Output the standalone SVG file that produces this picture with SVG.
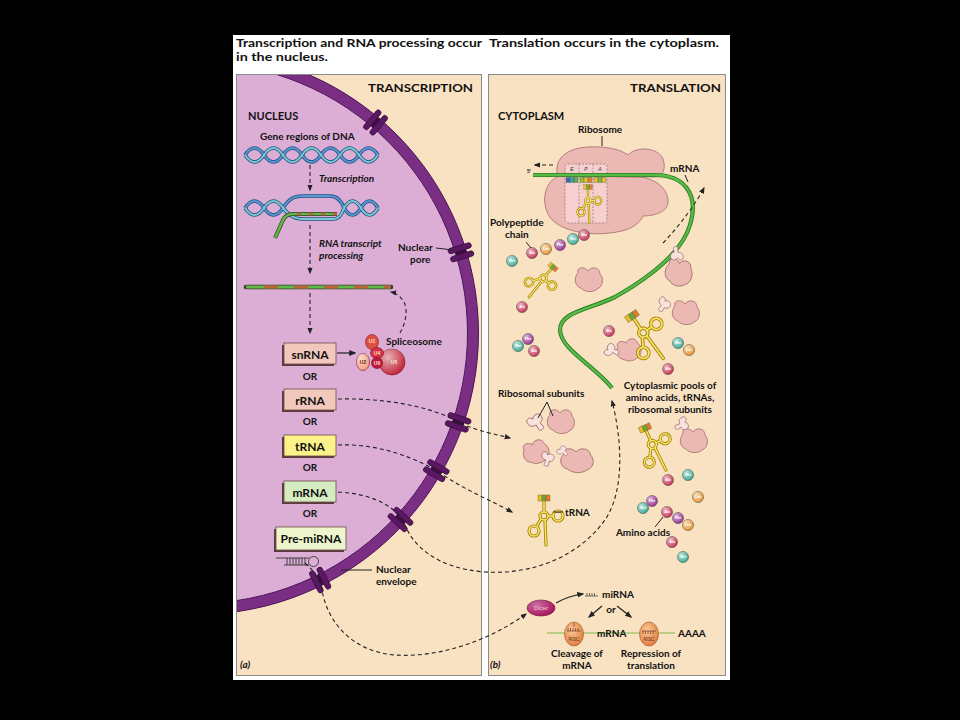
<svg xmlns="http://www.w3.org/2000/svg" width="960" height="720" viewBox="0 0 960 720">
<defs>
<style>
.hd{font-family:Lato,"Open Sans","Liberation Sans",sans-serif;font-weight:700;fill:#111}
.h1{font-size:11.5px}
.cap{font-size:11.5px}
.lb{font-size:10px}
.it{font-style:italic;font-size:10px}
.bx{font-size:12px;text-anchor:middle}
.mid{text-anchor:middle}
.tiny{font-family:"Liberation Sans",sans-serif;font-size:3.6px;font-weight:700;fill:#fff;text-anchor:middle}
.dash{fill:none;stroke:#222;stroke-width:1.1;stroke-dasharray:4 3}
.solid{fill:none;stroke:#222;stroke-width:1.2}
.lead{fill:none;stroke:#222;stroke-width:1}
.rib{fill:#ecb8b4;stroke:#a06c6c;stroke-width:0.8}
.ribs{fill:#f8e2de;stroke:#a06c6c;stroke-width:0.8}
.bxs{fill:#5b3b3b}
.bxr{stroke:#6b4b4b;stroke-width:0.8}
.tro{fill:none;stroke:#a68400;stroke-width:3.2;stroke-linecap:round}
.tri{fill:none;stroke:#f7e46a;stroke-width:1.5;stroke-linecap:round}
.bd{stroke:#333;stroke-width:0.5}
</style>
<marker id="ah" viewBox="0 0 10 10" refX="8" refY="5" markerWidth="6" markerHeight="6" orient="auto"><path d="M0,1 L10,5 L0,9 z" fill="#222"/></marker>
<radialGradient id="shine" cx="0.35" cy="0.32" r="0.7"><stop offset="0" stop-color="#fff" stop-opacity="0.65"/><stop offset="1" stop-color="#fff" stop-opacity="0"/></radialGradient>
<radialGradient id="risc" cx="0.4" cy="0.35" r="0.7"><stop offset="0" stop-color="#fbc89a"/><stop offset="1" stop-color="#e07a3a"/></radialGradient>
<clipPath id="lp"><rect x="237" y="75" width="244" height="600"/></clipPath>
<g id="pore">
<rect x="-12" y="-7" width="24" height="5.5" rx="2.7" fill="#5a1862" stroke="#360a3c" stroke-width="0.7"/>
<rect x="-12" y="1.5" width="24" height="5.5" rx="2.7" fill="#5a1862" stroke="#360a3c" stroke-width="0.7"/>
<rect x="-5.5" y="-1.5" width="11" height="3" fill="#3e0c44"/>
</g>
<g id="trna">
<g class="tro"><path d="M0,3 V14 M4,18 H9 M-3,21 L-7,28 M1,22 L2,47"/><circle cx="0" cy="18" r="4"/><circle cx="14" cy="18" r="5"/><circle cx="-10" cy="33" r="5"/></g>
<g class="tri"><path d="M0,3 V14 M4,18 H9 M-3,21 L-7,28 M1,22 L2,47"/><circle cx="0" cy="18" r="4"/><circle cx="14" cy="18" r="5"/><circle cx="-10" cy="33" r="5"/></g>
<rect x="-6" y="-3" width="4" height="6" fill="#e0c030" stroke="#7a6010" stroke-width="0.4"/>
<rect x="-2" y="-3" width="4" height="6" fill="#6aa845" stroke="#7a6010" stroke-width="0.4"/>
<rect x="2" y="-3" width="4" height="6" fill="#e07a30" stroke="#7a6010" stroke-width="0.4"/>
</g>
<path id="lg" d="M-10,-6 C-12,-12 -3,-13 0,-8 C3,-13 12,-12 12,-5 C16,-1 15,8 9,10 C5,14 -4,13 -7,9 C-14,7 -14,-2 -10,-6 Z"/>
<path id="sm" d="M-8,-3 C-9,-7 -3,-8 -2,-4 C0,-8 7,-7 6,-2 C6,1 3,2 2,2 L3,6 C3,9 -3,9 -2,6 L-2,2 C-6,2 -8,0 -8,-3 Z"/>
<g id="ala"><circle r="5.5" fill="#c8385a" class="bd"/><circle r="5.5" fill="url(#shine)"/><text y="1.3" class="tiny">Ala</text></g>
<g id="met"><circle r="5.5" fill="#3fae98" class="bd"/><circle r="5.5" fill="url(#shine)"/><text y="1.3" class="tiny">Met</text></g>
<g id="phe"><circle r="5.5" fill="#9a3496" class="bd"/><circle r="5.5" fill="url(#shine)"/><text y="1.3" class="tiny">Phe</text></g>
<g id="leu"><circle r="5.5" fill="#e89a38" class="bd"/><circle r="5.5" fill="url(#shine)"/><text y="1.3" class="tiny">Leu</text></g>
</defs>

<rect width="960" height="720" fill="#000"/>
<rect x="233" y="35" width="497" height="645" fill="#fff"/>

<g id="headings" class="hd h1">
<text x="236" y="47" textLength="246" lengthAdjust="spacingAndGlyphs">Transcription and RNA processing occur</text>
<text x="236" y="61" textLength="92" lengthAdjust="spacingAndGlyphs">in the nucleus.</text>
<text x="489" y="47" textLength="230" lengthAdjust="spacingAndGlyphs">Translation occurs in the cytoplasm.</text>
</g>

<g id="panel-a">
<rect x="236.5" y="74.5" width="245" height="601" fill="#f9e2c2" stroke="#8a8a8a" stroke-width="1"/>
<g clip-path="url(#lp)">
<circle cx="197" cy="333" r="271" fill="#dcaed6"/>
<circle cx="197" cy="333" r="276" fill="none" stroke="#7b2f84" stroke-width="11"/>
<circle cx="197" cy="333" r="281.5" fill="none" stroke="#4d1556" stroke-width="1"/>
<circle cx="197" cy="333" r="270.5" fill="none" stroke="#4d1556" stroke-width="1"/>
</g>
<text x="368" y="92" class="hd cap" textLength="105" lengthAdjust="spacingAndGlyphs">TRANSCRIPTION</text>
<text x="248" y="120" class="hd" font-size="11">NUCLEUS</text>
<text x="240" y="668" class="hd it">(a)</text>
</g>

<g id="nuclear-pores">
<use href="#pore" transform="rotate(-49.7 197 333) translate(473 333)"/>
<use href="#pore" transform="rotate(-17 197 333) translate(473 333)"/>
<use href="#pore" transform="rotate(18.9 197 333) translate(473 333)"/>
<use href="#pore" transform="rotate(29.9 197 333) translate(473 333)"/>
<use href="#pore" transform="rotate(42.5 197 333) translate(473 333)"/>
<use href="#pore" transform="rotate(63.5 197 333) translate(473 333)"/>
</g>

<g id="panel-b">
<rect x="488.5" y="74.5" width="237" height="601" fill="#f9e2c2" stroke="#8a8a8a" stroke-width="1"/>
<text x="630" y="92" class="hd cap" textLength="91" lengthAdjust="spacingAndGlyphs">TRANSLATION</text>
<text x="498" y="120" class="hd" font-size="11">CYTOPLASM</text>
<text x="490" y="668" class="hd it">(b)</text>
</g>

<g id="dna">
<text x="260" y="140" class="hd lb">Gene regions of DNA</text>
<g fill="none" stroke-width="3.6" stroke="#1d4f80">
<path d="M245,155 Q254.5,141 264,155 T283,155 T302,155 T321,155 T340,155 T359,155 T378,155"/>
<path d="M245,155 Q254.5,169 264,155 T283,155 T302,155 T321,155 T340,155 T359,155 T378,155"/>
</g>
<g fill="none" stroke-width="2">
<path stroke="#5a96d0" d="M245,155 Q254.5,141 264,155 T283,155 T302,155 T321,155 T340,155 T359,155 T378,155"/>
<path stroke="#7ccad0" d="M245,155 Q254.5,169 264,155 T283,155 T302,155 T321,155 T340,155 T359,155 T378,155"/>
</g>
</g>

<g id="transcribing-dna">
<g fill="none" stroke-width="3.6" stroke="#1d4f80">
<path d="M245,208 Q254.5,194 264,208 T283,208 C288,200 293,196 303,196 L330,196 C337,196 341,200 344,208 Q352.5,222 361,208 T378,208"/>
<path d="M245,208 Q254.5,222 264,208 T283,208 C288,214 293,219 303,219 L334,219 C339,219 342,214 344,208 Q352.5,194 361,208 T378,208"/>
</g>
<g fill="none" stroke-width="2">
<path stroke="#5a96d0" d="M245,208 Q254.5,194 264,208 T283,208 C288,200 293,196 303,196 L330,196 C337,196 341,200 344,208 Q352.5,222 361,208 T378,208"/>
<path stroke="#7ccad0" d="M245,208 Q254.5,222 264,208 T283,208 C288,214 293,219 303,219 L334,219 C339,219 342,214 344,208 Q352.5,194 361,208 T378,208"/>
</g>
<path d="M337,214 L293,214 Q286,214 283,220 L275,238" fill="none" stroke="#3a3a2a" stroke-width="4"/>
<path d="M337,214 L293,214 Q286,214 283,220 L275,238" fill="none" stroke="#62b846" stroke-width="2.6"/>
<path d="M337,214 L293,214" fill="none" stroke="#b8643a" stroke-width="2.6" stroke-dasharray="4 8"/>
</g>

<g id="labels-left" class="hd">
<text x="319" y="182" class="it">Transcription</text>
<text x="319" y="247" class="it">RNA transcript</text>
<text x="319" y="259" class="it">processing</text>
<text x="398" y="251" class="lb">Nuclear</text>
<text x="410" y="263" class="lb">pore</text>
<text x="376" y="573" class="lb">Nuclear</text>
<text x="376" y="585" class="lb">envelope</text>
</g>

<g id="processed-rna">
<path d="M246,287 H391" stroke="#3a3a2a" stroke-width="4.6" fill="none" stroke-linecap="round"/>
<path d="M246,287 H391" stroke="#62b846" stroke-width="3" fill="none"/>
<path d="M264,287 H391" stroke="#b8643a" stroke-width="3" fill="none" stroke-dasharray="14 16"/>
</g>

<g id="spliceosome">
<circle cx="392" cy="362" r="13" fill="#c0283a" stroke="#7a1020" stroke-width="0.6"/>
<circle cx="392" cy="362" r="13" fill="url(#shine)"/>
<ellipse cx="372" cy="342" rx="6.5" ry="7.5" fill="#e05040" stroke="#7a1020" stroke-width="0.6"/>
<ellipse cx="377" cy="353" rx="6.5" ry="5.5" fill="#d83040" stroke="#7a1020" stroke-width="0.6"/>
<ellipse cx="377" cy="363" rx="5.5" ry="5.5" fill="#c01840" stroke="#7a1020" stroke-width="0.6"/>
<ellipse cx="363" cy="362" rx="6.5" ry="8.5" fill="#f0a080" stroke="#7a1020" stroke-width="0.6"/>
<ellipse cx="363" cy="362" rx="6.5" ry="8.5" fill="url(#shine)"/>
<g font-family="Liberation Sans,sans-serif" font-weight="700" font-size="5px" fill="#fde0d0" text-anchor="middle">
<text x="372" y="343">U1</text><text x="377" y="355">U4</text><text x="377" y="365">U6</text><text x="363" y="364" fill="#6a2010">U2</text><text x="394" y="364">U5</text>
</g>
<text x="386" y="345" class="hd lb">Spliceosome</text>
</g>

<g id="snRNA"><rect x="282" y="345" width="52" height="21" class="bxs"/><rect x="284" y="343" width="52" height="21" fill="#f2c8bc" class="bxr"/><text x="310" y="358.5" class="hd bx">snRNA</text></g>
<g id="rRNA"><rect x="282" y="391" width="52" height="21" class="bxs"/><rect x="284" y="389" width="52" height="21" fill="#f2c8bc" class="bxr"/><text x="310" y="404.5" class="hd bx">rRNA</text></g>
<g id="tRNA-box"><rect x="282" y="437" width="52" height="21" class="bxs"/><rect x="284" y="435" width="52" height="21" fill="#fbf28a" class="bxr"/><text x="310" y="450.5" class="hd bx">tRNA</text></g>
<g id="mRNA-box"><rect x="282" y="483" width="52" height="21" class="bxs"/><rect x="284" y="481" width="52" height="21" fill="#d4ecc0" class="bxr"/><text x="310" y="496.5" class="hd bx">mRNA</text></g>
<g id="pre-miRNA"><rect x="274" y="529" width="70" height="23" class="bxs"/><rect x="276" y="527" width="70" height="23" fill="#eef5cc" class="bxr"/><text x="311" y="543" class="hd bx">Pre-miRNA</text>
<g fill="none" stroke="#333" stroke-width="0.9"><path d="M276,558 H309 M284,565 H309 M287,558 V565 M290,558 V565 M293,558 V565 M296,558 V565 M299,558 V565 M302,558 V565 M305,558 V565"/><circle cx="313.5" cy="561.5" r="5"/></g>
</g>
<g id="or-labels" class="hd lb mid">
<text x="310" y="380">OR</text><text x="310" y="425">OR</text><text x="310" y="471">OR</text><text x="310" y="517">OR</text>
</g>

<g id="ribosome">
<path class="rib" d="M560,176 C545,180 541,200 548,214 C556,230 585,236 610,233 C628,231 638,226 643,216 C654,216 670,212 668,199 C666,187 656,180 642,177 Z"/>
<path class="rib" d="M558,176 C553,161 565,148 588,147 C605,146 620,149 628,155 C636,146 658,147 663,159 C667,171 661,177 654,177 Z"/>
<rect x="565" y="164" width="42" height="59" rx="3" fill="#f8d8d8" fill-opacity="0.75" stroke="#8a5a5a" stroke-width="0.6" stroke-dasharray="2 1.5"/>
<path d="M579,164 V223 M593,164 V223" stroke="#8a5a5a" stroke-width="0.6" stroke-dasharray="2 1.5"/>
<g font-family="Liberation Sans,sans-serif" font-style="italic" font-size="5px" fill="#333" text-anchor="middle"><text x="572" y="171">E</text><text x="586" y="171">P</text><text x="600" y="171">A</text></g>
<text x="527" y="173" font-family="Liberation Sans,sans-serif" font-size="5px" font-weight="700" fill="#222">5'</text>
<text x="578" y="133" class="hd lb">Ribosome</text>
<path d="M602,136 V146" class="lead"/>
<text x="670" y="172" class="hd lb">mRNA</text>
<path d="M685,175 L688,182" class="lead"/>
</g>

<g id="mRNA-strand">
<path d="M533,175 L655,175 C682,175 700,192 690,225 C681,255 645,280 615,297 C588,310 560,312 560,330 C561,350 595,366 612,388" fill="none" stroke="#2e7d26" stroke-width="4.2"/>
<path d="M533,175 L655,175 C682,175 700,192 690,225 C681,255 645,280 615,297 C588,310 560,312 560,330 C561,350 595,366 612,388" fill="none" stroke="#58bb46" stroke-width="2.4"/>
<g stroke="#444" stroke-width="0.3">
<rect x="566" y="177.5" width="4" height="5" fill="#3a6ab0"/><rect x="570" y="177.5" width="4" height="5" fill="#40a0b0"/><rect x="574" y="177.5" width="4" height="5" fill="#60b040"/>
<rect x="580" y="177.5" width="4" height="5" fill="#90c040"/><rect x="584" y="177.5" width="4" height="5" fill="#e0c030"/><rect x="588" y="177.5" width="4" height="5" fill="#e08030"/>
<rect x="594" y="177.5" width="4" height="5" fill="#e0c030"/><rect x="598" y="177.5" width="4" height="5" fill="#80b040"/><rect x="602" y="177.5" width="4" height="5" fill="#e0c030"/>
</g>
<use href="#trna" transform="translate(588,187) scale(0.7,0.76)"/>
</g>

<g id="polypeptide">
<use href="#met" x="512" y="261"/>
<use href="#ala" x="532" y="253"/>
<use href="#leu" x="546" y="249"/>
<use href="#phe" x="560" y="245"/>
<use href="#met" x="573" y="239"/>
<use href="#ala" x="584" y="235"/>
<text x="490" y="226" class="hd lb">Polypeptide</text>
<text x="505" y="238" class="hd lb">chain</text>
<path d="M526,242 L531,248" class="lead"/>
</g>

<g id="cytoplasmic-pool">
<g class="rib">
<use href="#lg" transform="translate(588,279)"/>
<use href="#lg" transform="translate(678,272) rotate(10) scale(1,1.1)"/>
<use href="#lg" transform="translate(685,312)"/>
<use href="#lg" transform="translate(628,350) rotate(-15) scale(0.9)"/>
<use href="#lg" transform="translate(560,421)"/>
<use href="#lg" transform="translate(535,452) rotate(-20) scale(0.95)"/>
<use href="#lg" transform="translate(576,460) scale(1.2,1)"/>
<use href="#lg" transform="translate(693,440)"/>
</g>
<g class="ribs">
<use href="#sm" transform="translate(676,254) rotate(180) scale(0.9)"/>
<use href="#sm" transform="translate(664,305) rotate(40) scale(0.9)"/>
<use href="#sm" transform="translate(612,350) rotate(-60) scale(0.9)"/>
<use href="#sm" transform="translate(537,422) rotate(-30) scale(1.1)"/>
<use href="#sm" transform="translate(548,459) rotate(20) scale(0.9)"/>
<use href="#sm" transform="translate(563,451) rotate(-40) scale(0.7)"/>
<use href="#sm" transform="translate(682,425) rotate(70) scale(0.9)"/>
</g>
<use href="#trna" transform="translate(553,267) rotate(41) scale(0.82)"/>
<use href="#trna" transform="translate(632,316) rotate(-34) scale(1.12)"/>
<use href="#trna" transform="translate(645,428) rotate(-24) scale(1.0)"/>
<use href="#ala" x="522" y="307"/>
<use href="#ala" x="609" y="331"/>
<use href="#phe" x="528" y="339"/>
<use href="#met" x="518" y="346"/>
<use href="#ala" x="534" y="351"/>
<use href="#ala" x="668" y="369"/>
<use href="#met" x="678" y="343"/>
<use href="#leu" x="689" y="350"/>
<use href="#ala" x="668" y="480"/>
<use href="#met" x="688" y="475"/>
<use href="#leu" x="698" y="497"/>
<text x="670" y="389" class="hd lb mid">Cytoplasmic pools of</text>
<text x="670" y="401" class="hd lb mid">amino acids, tRNAs,</text>
<text x="670" y="413" class="hd lb mid">ribosomal subunits</text>
<text x="498" y="397" class="hd lb">Ribosomal subunits</text>
<path d="M538,418 L547,402 L553,416" class="lead"/>
</g>

<g id="tRNA-free">
<use href="#trna" transform="translate(544,498)"/>
<text x="565" y="516" class="hd lb">tRNA</text>
<path d="M553,512 H563" class="lead"/>
</g>

<g id="amino-acids">
<use href="#met" x="643" y="508"/>
<use href="#phe" x="652" y="501"/>
<use href="#ala" x="667" y="512"/>
<use href="#phe" x="678" y="518"/>
<use href="#leu" x="688" y="525"/>
<use href="#ala" x="672" y="542"/>
<use href="#met" x="683" y="557"/>
<text x="643" y="536" class="hd lb mid">Amino acids</text>
<path d="M655,527 L663,517" class="lead"/>
</g>

<g id="dicer">
<ellipse cx="541" cy="608" rx="14" ry="8" fill="#a8145e" stroke="#6a0a3a" stroke-width="0.6"/>
<ellipse cx="541" cy="608" rx="14" ry="8" fill="url(#shine)" opacity="0.6"/>
<text x="541" y="610" font-family="Liberation Sans,sans-serif" font-size="6px" fill="#f8c8e0" text-anchor="middle">Dicer</text>
</g>

<g id="miRNA">
<path d="M585,596 H598 M587,596 V593 M589.5,596 V593 M592,596 V593 M594.5,596 V593" fill="none" stroke="#333" stroke-width="0.7"/>
<text x="602" y="598" class="hd lb">miRNA</text>
<text x="611" y="613" class="hd lb mid">or</text>
</g>

<g id="risc">
<path d="M547,633 H675" stroke="#7ab848" stroke-width="1.2" fill="none"/>
<ellipse cx="574" cy="634" rx="9.5" ry="12" fill="url(#risc)" stroke="#a05020" stroke-width="0.6"/>
<ellipse cx="649" cy="634" rx="9.5" ry="12" fill="url(#risc)" stroke="#a05020" stroke-width="0.6"/>
<path d="M567,631 H581 M568,631 V628 M570.5,631 V628 M573,631 V628 M575.5,631 V628 M578,631 V628 M574,627 V623" fill="none" stroke="#5a2a10" stroke-width="0.6"/>
<path d="M642,631 H656 M643,631 V634 M645.5,631 V634 M648,631 V634 M650.5,631 V634 M653,631 V634" fill="none" stroke="#5a2a10" stroke-width="0.6"/>
<g font-family="Liberation Sans,sans-serif" font-size="4.5px" fill="#5a2a10" text-anchor="middle"><text x="574" y="641">RISC</text><text x="649" y="641">RISC</text></g>
<text x="597" y="637" class="hd lb">mRNA</text>
<text x="678" y="637" class="hd lb">AAAA</text>
<text x="577" y="657" class="hd lb mid">Cleavage of</text>
<text x="577" y="669" class="hd lb mid">mRNA</text>
<text x="651" y="657" class="hd lb mid">Repression of</text>
<text x="651" y="669" class="hd lb mid">translation</text>
</g>

<g id="connectors">
<path class="dash" marker-end="url(#ah)" d="M310,165 V190"/>
<path class="dash" marker-end="url(#ah)" d="M310,225 V273"/>
<path class="dash" marker-end="url(#ah)" d="M310,293 V333"/>
<path class="dash" marker-end="url(#ah)" d="M400,333 C406,322 408,310 404,302 C400,296 396,293 391,292"/>
<path class="solid" marker-end="url(#ah)" d="M337,353 H355"/>
<path class="dash" marker-end="url(#ah)" d="M338,399 C380,398 430,405 460,423 C480,432 495,434 510,438"/>
<path class="dash" marker-end="url(#ah)" d="M338,445 C380,443 420,460 440,473 C465,490 490,500 512,512"/>
<path class="dash" marker-end="url(#ah)" d="M338,492 C375,494 398,508 405,525 C413,545 435,568 485,572 C535,575 580,555 605,520 C625,490 622,440 612,401"/>
<path class="dash" marker-end="url(#ah)" d="M305,563 C315,572 320,580 322,590 C328,625 355,652 395,655 C440,658 490,640 526,614"/>
<path class="dash" marker-end="url(#ah)" d="M663,243 C680,225 695,205 704,188"/>
<path class="dash" marker-end="url(#ah)" d="M553,165 H535"/>
<path class="solid" marker-end="url(#ah)" d="M556,603 Q568,596 583,594"/>
<path class="solid" marker-end="url(#ah)" d="M602,606 L589,617"/>
<path class="solid" marker-end="url(#ah)" d="M617,606 L631,617"/>
<path class="lead" d="M436,248 L453,250"/>
<path class="lead" d="M341,570 H372"/>
</g>
</svg>
